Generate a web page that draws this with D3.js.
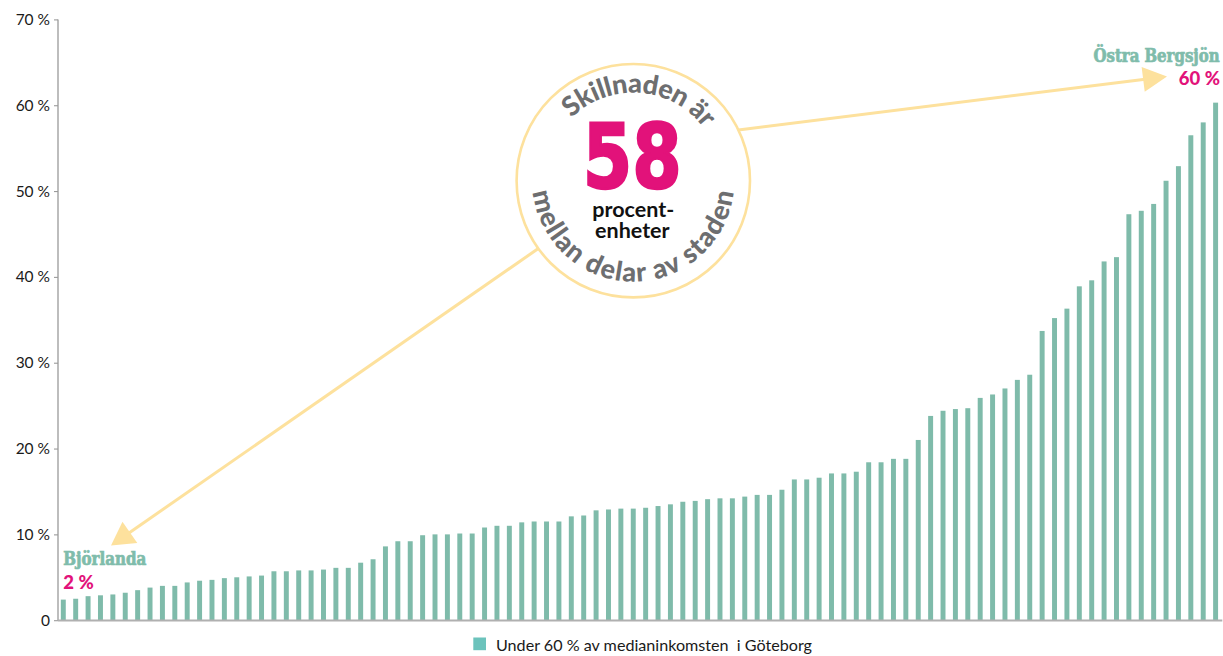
<!DOCTYPE html>
<html>
<head>
<meta charset="utf-8">
<script src="https://cdn.jsdelivr.net/npm/d3@7"></script>
<style>
  html, body { margin: 0; padding: 0; background: #fff; }
  svg { display: block; }
</style>
</head>
<body>
<svg id="chart" width="1223" height="656"></svg>
<script>
// ---- data ----
const values = [
  2.4, 2.5, 2.8, 2.9, 3.0, 3.2, 3.5, 3.8, 4.0, 4.0,
  4.4, 4.6, 4.7, 4.9, 5.0, 5.1, 5.2, 5.7, 5.7, 5.8,
  5.8, 5.9, 6.1, 6.1, 6.7, 7.1, 8.6, 9.2, 9.2, 9.9,
  10.0, 10.0, 10.1, 10.1, 10.8, 11.0, 11.0, 11.4, 11.5, 11.5,
  11.5, 12.1, 12.2, 12.8, 12.9, 13.0, 13.0, 13.1, 13.3, 13.5,
  13.8, 13.9, 14.1, 14.2, 14.2, 14.4, 14.6, 14.6, 15.2, 16.4,
  16.4, 16.6, 17.1, 17.1, 17.3, 18.4, 18.4, 18.8, 18.8, 21.0,
  23.8, 24.4, 24.6, 24.7, 25.9, 26.3, 27.0, 28.0, 28.6, 33.7,
  35.2, 36.3, 38.9, 39.6, 41.8, 42.3, 47.3, 47.7, 48.5, 51.2,
  52.9, 56.5, 58.0, 60.3
];
const categories = values.map((v, i) => "Område " + (i + 1));
const yTicks = [0, 10, 20, 30, 40, 50, 60, 70];
const seriesName = "Under 60 % av medianinkomsten  i Göteborg";
const lowName = "Björlanda", lowLabel = "2 %";
const highName = "Östra Bergsjön", highLabel = "60 %";
const diffValue = "58";
const circleTop = "Skillnaden är";
const circleBottom = "mellan delar av staden";
const circleMid = ["procent-", "enheter"];

// ---- styles ----
const barColor = "#7fbbaa";
const legendColor = "#6cc3bc";
const labelTeal = "#7fbcab";
const magenta = "#e2127a";
const arrowColor = "#fde19d";
const grayText = "#6d6e70";
const sans = "Lato, 'Open Sans', sans-serif";
const slab = "'DejaVu Serif Condensed', 'DejaVu Serif', serif";

const svg = d3.select("#chart");

const y = d3.scaleLinear().domain([0, 70]).range([620.2, 19.4]);
const x = d3.scaleBand().domain(categories).range([57.1, 1221.8])
  .paddingInner(0.6).paddingOuter(0.3);

// y axis
const yAxis = svg.append("g").attr("transform", "translate(58,0)")
  .call(d3.axisLeft(y).tickValues(yTicks).tickSize(4).tickPadding(4)
    .tickFormat(d => d === 0 ? "0" : d + " %"));
yAxis.select(".domain").attr("stroke", "#9a9a9a").attr("stroke-width", 1.3)
  .attr("d", `M0,${y(70)}V${y(0)}`);
yAxis.selectAll(".tick line").attr("stroke", "#9a9a9a").attr("stroke-width", 1.1);
yAxis.selectAll(".tick text").attr("font-family", sans).attr("font-size", 15.5)
  .attr("fill", "#1a1a1a");

// bars
svg.append("g").selectAll("rect").data(values).join("rect")
  .attr("x", (d, i) => x(categories[i]))
  .attr("width", x.bandwidth())
  .attr("y", d => y(d))
  .attr("height", d => y(0) - y(d))
  .attr("fill", barColor);

// x baseline
svg.append("line").attr("x1", 58).attr("x2", 1222.3)
  .attr("y1", y(0) + 0.3).attr("y2", y(0) + 0.3)
  .attr("stroke", "#b0b0b0").attr("stroke-width", 2);

// legend
const lg = svg.append("g");
lg.append("rect").attr("x", 473.3).attr("y", 637.5).attr("width", 12.7).attr("height", 12.7)
  .attr("fill", legendColor);
lg.append("text").attr("x", 496).attr("y", 650.5).attr("font-family", sans)
  .attr("font-size", 15).attr("fill", "#1a1a1a").attr("textLength", 316)
  .attr("lengthAdjust", "spacingAndGlyphs").style("white-space", "pre").text(seriesName);

// arrows
function arrow(x1, y1, x2, y2, len, half) {
  const dx = x2 - x1, dy = y2 - y1, L = Math.hypot(dx, dy);
  const ux = dx / L, uy = dy / L, px = -uy, py = ux;
  const bx = x2 - ux * len, by = y2 - uy * len;
  svg.append("line").attr("x1", x1).attr("y1", y1).attr("x2", bx + ux * 2).attr("y2", by + uy * 2)
    .attr("stroke", arrowColor).attr("stroke-width", 3);
  svg.append("path")
    .attr("d", `M${x2},${y2}L${bx + px * half},${by + py * half}L${bx - px * half},${by - py * half}Z`)
    .attr("fill", arrowColor);
}
const cx = 633.3, cy = 180.7, cr = 116.7;
arrow(cx + cr * Math.cos(-0.45), cy + cr * Math.sin(-0.45), 1167, 76.5, 24, 12.5);
arrow(cx + cr * Math.cos(Math.PI - 0.62), cy + cr * Math.sin(Math.PI - 0.62), 111, 545.5, 23, 13);

// circle
svg.append("circle").attr("cx", cx).attr("cy", cy).attr("r", cr)
  .attr("fill", "#fff").attr("stroke", arrowColor).attr("stroke-width", 2.6);

const defs = svg.append("defs");
const rt = 88, rb = 101;
defs.append("path").attr("id", "arcTop")
  .attr("d", `M${cx - rt},${cy} A${rt},${rt} 0 0 1 ${cx + rt},${cy}`);
defs.append("path").attr("id", "arcBot")
  .attr("d", `M${cx - rb * Math.cos(0.1)},${cy - rb * Math.sin(0.1)} A${rb},${rb} 0 1 0 ${cx + rb * Math.cos(0.1)},${cy - rb * Math.sin(0.1)}`);

svg.append("text").attr("font-family", sans).attr("font-weight", 900)
  .attr("font-size", 27).attr("fill", grayText)
  .append("textPath").attr("href", "#arcTop").attr("startOffset", "52.4%")
  .attr("text-anchor", "middle").attr("textLength", 150).attr("lengthAdjust", "spacing")
  .text(circleTop);

svg.append("text").attr("font-family", sans).attr("font-weight", 900)
  .attr("font-size", 27).attr("fill", grayText)
  .append("textPath").attr("href", "#arcBot").attr("startOffset", "50%")
  .attr("text-anchor", "middle").attr("textLength", 294).attr("lengthAdjust", "spacing")
  .text(circleBottom);

svg.append("text").attr("x", cx - 1).attr("y", 188.3).attr("text-anchor", "middle")
  .attr("font-family", "'DejaVu Sans', sans-serif").attr("font-weight", "bold")
  .attr("font-size", 89).attr("fill", magenta).attr("stroke", magenta).attr("stroke-width", 2.5)
  .attr("textLength", 99).attr("lengthAdjust", "spacingAndGlyphs").text(diffValue);

svg.append("text").attr("x", cx).attr("y", 216.7).attr("text-anchor", "middle")
  .attr("font-family", sans).attr("font-weight", "bold").attr("font-size", 21.5)
  .attr("fill", "#111").text(circleMid[0]);
svg.append("text").attr("x", cx - 1).attr("y", 238.3).attr("text-anchor", "middle")
  .attr("font-family", sans).attr("font-weight", "bold").attr("font-size", 21.5)
  .attr("fill", "#111").text(circleMid[1]);

// end labels
svg.append("text").attr("x", 63.3).attr("y", 565).attr("font-family", slab)
  .attr("font-weight", "bold").attr("font-size", 18).attr("fill", labelTeal)
  .attr("stroke", labelTeal).attr("stroke-width", 0.7)
  .attr("textLength", 83).attr("lengthAdjust", "spacingAndGlyphs").text(lowName);
svg.append("text").attr("x", 63.3).attr("y", 589.3).attr("font-family", sans)
  .attr("font-weight", 900).attr("font-size", 18.5).attr("fill", magenta).text(lowLabel);

svg.append("text").attr("x", 1219.5).attr("y", 61.7).attr("text-anchor", "end")
  .attr("font-family", slab).attr("font-weight", "bold").attr("font-size", 18)
  .attr("fill", labelTeal).attr("stroke", labelTeal).attr("stroke-width", 0.7)
  .attr("textLength", 126).attr("lengthAdjust", "spacingAndGlyphs")
  .text(highName);
svg.append("text").attr("x", 1220).attr("y", 85).attr("text-anchor", "end")
  .attr("font-family", sans).attr("font-weight", 900).attr("font-size", 18.5)
  .attr("fill", magenta).text(highLabel);
</script>
</body>
</html>
